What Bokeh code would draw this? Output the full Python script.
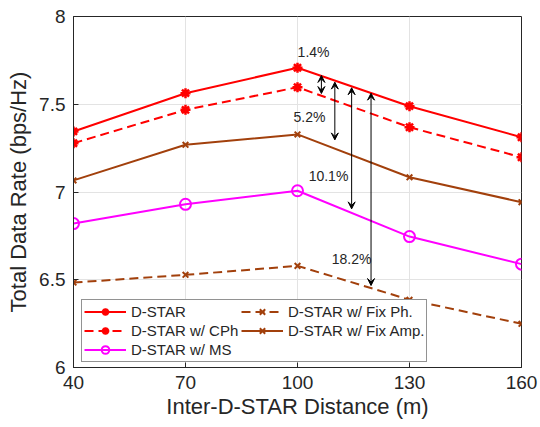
from bokeh.plotting import figure
from bokeh.models import Legend, LegendItem, Arrow, VeeHead, ColumnDataSource, FixedTicker
from bokeh.core.properties import value
from bokeh.embed import file_html
from bokeh.resources import INLINE

distance = [40, 70, 100, 130, 160]
dstar = [7.345, 7.563, 7.708, 7.489, 7.312]
dstar_cph = [7.278, 7.468, 7.597, 7.369, 7.198]
dstar_fixamp = [7.066, 7.269, 7.328, 7.084, 6.942]
dstar_ms = [6.820, 6.930, 7.007, 6.746, 6.589]
dstar_fixph = [6.484, 6.528, 6.579, 6.386, 6.249]

arrow_x = [106.4, 110.0, 114.5, 119.7]
arrow_top = [7.664, 7.626, 7.594, 7.563]
arrow_bottom = [7.561, 7.297, 6.904, 6.467]
gap_labels = ["1.4%", "5.2%", "10.1%", "18.2%"]
gap_label_x = [104.3, 103.2, 108.3, 114.5]
gap_label_y = [7.795, 7.425, 7.094, 6.621]

x_ticks = [40, 70, 100, 130, 160]
y_ticks = [6, 6.5, 7, 7.5, 8]

RED = "#FF0000"
BROWN = "#A2400C"
MAG = "#FF00FF"
FONT = "Liberation Sans"
TXT = "#262626"

p = figure(width=540, height=427, x_range=(40, 160), y_range=(6, 8),
           output_backend="svg", toolbar_location=None,
           min_border_left=73, min_border_right=19, min_border_top=16, min_border_bottom=60)

p.outline_line_color = TXT
p.outline_line_width = 1
p.background_fill_color = "white"
p.border_fill_color = "white"

for ax in (p.xaxis, p.yaxis):
    ax.axis_line_color = TXT
    ax.major_tick_line_color = TXT
    ax.major_tick_in = 5
    ax.major_tick_out = 0
    ax.minor_tick_line_color = None
    ax.major_label_text_font = FONT
    ax.major_label_text_font_size = "19px"
    ax.major_label_text_color = TXT
    ax.axis_label_text_font = FONT
    ax.axis_label_text_font_size = "22px"
    ax.axis_label_text_font_style = "normal"
    ax.axis_label_text_color = TXT

p.xaxis.ticker = FixedTicker(ticks=x_ticks)
p.yaxis.ticker = FixedTicker(ticks=y_ticks)
p.xaxis.axis_label = "Inter-D-STAR Distance (m)"
p.yaxis.axis_label = "Total Data Rate (bps/Hz)"
p.xaxis.major_label_standoff = 8
p.yaxis.major_label_standoff = 8
p.xaxis.axis_label_standoff = 2
p.yaxis.axis_label_standoff = 5

p.xgrid.grid_line_color = "#E3E3E3"
p.ygrid.grid_line_color = "#E3E3E3"
p.xgrid.ticker = FixedTicker(ticks=x_ticks)
p.ygrid.ticker = FixedTicker(ticks=y_ticks)

DASH = "9 5"
series = [
    ("D-STAR", dstar, RED, "solid", "asterisk"),
    ("D-STAR w/ CPh", dstar_cph, RED, DASH, "asterisk"),
    ("D-STAR w/ MS", dstar_ms, MAG, "solid", "circle"),
    ("D-STAR w/ Fix Ph.", dstar_fixph, BROWN, DASH, "x"),
    ("D-STAR w/ Fix Amp.", dstar_fixamp, BROWN, "solid", "x"),
]

items = []
for name, ys, color, dash, marker in series:
    src = ColumnDataSource(dict(x=distance, y=ys))
    ln = p.line("x", "y", source=src, line_color=color, line_width=2, line_dash=dash)
    if marker == "circle":
        sc = p.scatter("x", "y", source=src, marker="circle", size=11, fill_color=None,
                       line_color=color, line_width=2)
    elif marker == "asterisk":
        sc = p.scatter("x", "y", source=src, marker="asterisk", size=10,
                       line_color=color, line_width=2.5)
    else:
        sc = p.scatter("x", "y", source=src, marker="x", size=8,
                       line_color=color, line_width=2)
    items.append(LegendItem(label=name, renderers=[ln, sc]))

for xa, yt, yb in zip(arrow_x, arrow_top, arrow_bottom):
    p.add_layout(Arrow(start=VeeHead(size=7, line_color="black", line_width=1),
                       end=VeeHead(size=7, line_color="black", line_width=1),
                       x_start=xa, y_start=yt, x_end=xa, y_end=yb,
                       line_color="black", line_width=1))

p.text(x=gap_label_x, y=gap_label_y, text=gap_labels, text_font=value(FONT),
       text_font_size="14px", text_align="center", text_baseline="middle",
       text_color=TXT)

legend = Legend(items=items, location=(8, 5), orientation="vertical", nrows=3,
                label_text_font=FONT, label_text_font_size="15px",
                label_text_color=TXT,
                glyph_width=42, glyph_height=19, label_height=19, label_width=110,
                spacing=0, padding=2, margin=0, label_standoff=5,
                border_line_color=TXT, border_line_width=1,
                background_fill_alpha=1)
p.add_layout(legend, "center")

open("out.html", "w").write(file_html(p, INLINE))
